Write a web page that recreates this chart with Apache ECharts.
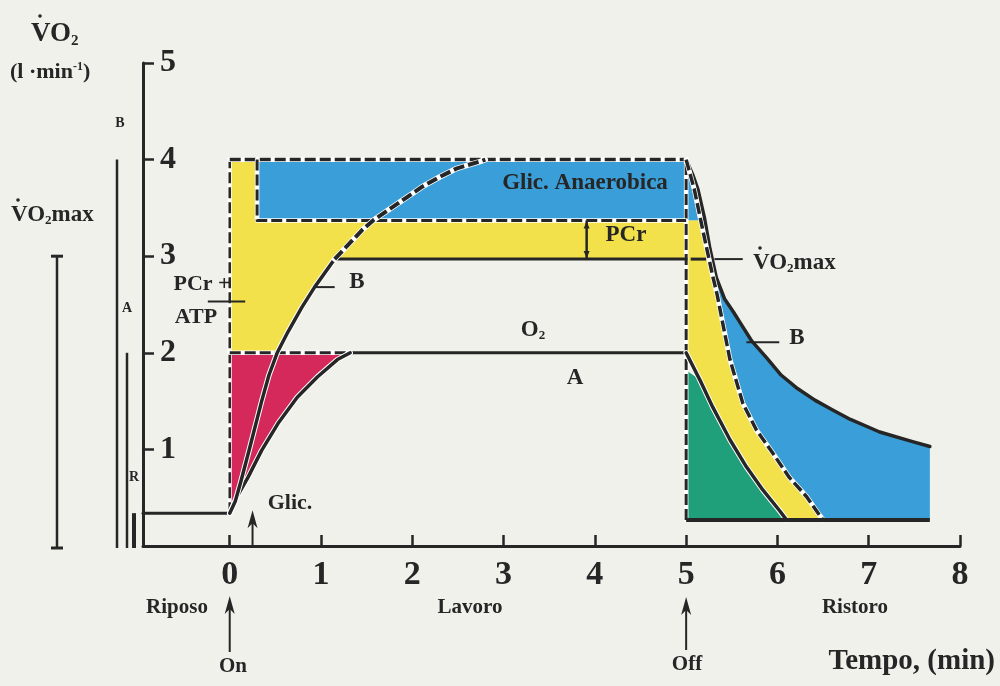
<!DOCTYPE html>
<html>
<head>
<meta charset="utf-8">
<script src="https://cdn.jsdelivr.net/npm/echarts@6/dist/echarts.min.js"></script>
<style>
  html, body { margin: 0; padding: 0; background: #f1f1ec; }
  #chart { width: 1000px; height: 686px; }
</style>
</head>
<body>
<div id="chart"></div>
<script>
// ---- values (minutes, l·min-1) ----
const xTicks = [0, 1, 2, 3, 4, 5, 6, 7, 8];
const yTicks = [1, 2, 3, 4, 5];
const xMin = -0.95, xMax = 8;

const restLevel = 0.34;        // resting VO2
const recoveryFloor = 0.27;    // baseline drawn under the recovery areas
const demandLevel = 4.0;       // total energy demand during work
const vo2maxLevel = 2.97;      // subject B ceiling
const levelA = 2.0;            // subject A steady state
const anaerobicFloor = 3.37;   // lower edge of the anaerobic glycolysis band
const anaerobicStart = 0.3;
const workEnd = 5;
const recoveryEnd = 7.67;
const greenTop = 1.82;
const pcrArrowAt = 3.91;
const glicArrowAt = 0.25;

// on-kinetics, subject B (solid up to VO2max, then projected)
const curveBRise = [[0, 0.34], [0.06, 0.46], [0.12, 0.66], [0.22, 1.02], [0.35, 1.5], [0.43, 1.77],
  [0.52, 2.0], [0.64, 2.22], [0.79, 2.47], [0.93, 2.68], [1.15, 2.97]];
const curveBProjected = [[1.15, 2.97], [1.45, 3.27], [1.57, 3.37], [1.94, 3.61], [2.11, 3.72],
  [2.3, 3.82], [2.49, 3.91], [2.74, 3.98], [2.8, 4.0]];
// on-kinetics, subject A
const curveA = [[0, 0.34], [0.08, 0.51], [0.2, 0.71], [0.35, 0.99], [0.53, 1.27], [0.74, 1.54],
  [0.96, 1.75], [1.18, 1.93], [1.32, 2.0]];
// recovery: total O2 debt (outer), glycolytic share boundary (dashed), subject A
const recoveryOuter = [[5, 4.0], [5.07, 3.85], [5.13, 3.69], [5.2, 3.4], [5.26, 3.08], [5.33, 2.78],
  [5.42, 2.56], [5.52, 2.42], [5.6, 2.3], [5.72, 2.12], [5.88, 1.95], [6.04, 1.77], [6.22, 1.63],
  [6.41, 1.51], [6.6, 1.41], [6.8, 1.31], [7.12, 1.18], [7.48, 1.08], [7.67, 1.03]];
const recoveryDashed = [[5, 4.0], [5.09, 3.69], [5.16, 3.37], [5.23, 3.06], [5.29, 2.8], [5.34, 2.6],
  [5.4, 2.31], [5.48, 1.93], [5.62, 1.48], [5.77, 1.2], [5.95, 0.96], [6.13, 0.71], [6.32, 0.51],
  [6.46, 0.32], [6.5, 0.27]];
const recoveryA = [[5, 2.0], [5.15, 1.72], [5.29, 1.44], [5.48, 1.1], [5.66, 0.82], [5.84, 0.58],
  [6.02, 0.37], [6.1, 0.27]];

// ---- styling ----
const FONT = '"Liberation Serif", "Times New Roman", serif';
const INK = '#262626';
const COL = { yellow: '#f2e14a', blue: '#3a9fd8', red: '#d5295c', green: '#1f9f7a', bg: '#f1f1ec' };

function renderItem(params, api) {
  const P = p => api.coord(p);
  const kids = [];
  const poly = (a, fill) => kids.push({ type: 'polygon', shape: { points: a.map(P) }, style: { fill: fill } });
  const line = (a, w, dash, color, cap) => kids.push({
    type: 'polyline', shape: { points: a.map(P) },
    style: { stroke: color || INK, lineWidth: w, lineDash: dash || null, fill: null, lineJoin: 'round', lineCap: cap || (dash ? 'butt' : 'round') }
  });
  const dashed = (a, w) => { line(a, w + 1.5, null, '#ffffff'); line(a, w, [11, 4]); };
  const haloed = (a, w) => { line(a, w + 2, null, '#ffffff'); line(a, w); };

  // ---- filled areas ----
  const riseAbove = curveBRise.filter(p => p[1] >= levelA).reverse();
  poly([[0, demandLevel], [anaerobicStart, demandLevel], [anaerobicStart, anaerobicFloor],
        [workEnd, anaerobicFloor], [workEnd, vo2maxLevel]].concat(riseAbove, [[0, levelA]]), COL.yellow);
  poly([[anaerobicStart, anaerobicFloor], [anaerobicStart, demandLevel], [workEnd, demandLevel],
        [workEnd, anaerobicFloor]], COL.blue);
  poly([[0, levelA]].concat(curveA.slice().reverse()), COL.red);

  const dashedLower = recoveryDashed.filter(p => p[1] <= anaerobicFloor);
  poly(recoveryOuter.concat([[recoveryEnd, recoveryFloor]], dashedLower.slice().reverse(),
        [[workEnd, anaerobicFloor]]), COL.blue);
  poly([[workEnd, anaerobicFloor]].concat(dashedLower, recoveryA.slice().reverse()), COL.yellow);
  poly([[workEnd, greenTop]].concat(recoveryA.slice(1), [[workEnd, recoveryFloor]]), COL.green);

  // ---- outlines ----
  line([[xMin, restLevel], [0, restLevel]], 3);
  dashed([[0, restLevel], [0, demandLevel]], 2.5);
  dashed([[0, demandLevel], [workEnd, demandLevel]], 3.5);
  dashed([[workEnd, recoveryFloor], [workEnd, demandLevel]], 3);
  dashed([[anaerobicStart, demandLevel], [anaerobicStart, anaerobicFloor], [workEnd, anaerobicFloor]], 3);
  dashed([[0, levelA], [curveA[curveA.length - 1][0], levelA]], 3);
  line([[curveA[curveA.length - 1][0], levelA], [workEnd, levelA]], 3);
  line([[curveBRise[curveBRise.length - 1][0], vo2maxLevel], [workEnd, vo2maxLevel]], 3);
  line([[workEnd + 0.05, vo2maxLevel], [workEnd + 0.22, vo2maxLevel]], 3, null, null, 'butt');

  haloed(curveA, 3.5);
  haloed(curveBRise, 3.5);
  dashed(curveBProjected, 4);

  haloed(recoveryA, 3.5);
  line(recoveryOuter, 3.5);
  dashed(recoveryDashed, 3.5);
  line([[workEnd, recoveryFloor], [recoveryEnd, recoveryFloor]], 4, null, null, 'butt');

  // PCr double arrow
  const a0 = P([pcrArrowAt, vo2maxLevel]), a1 = P([pcrArrowAt, anaerobicFloor]);
  kids.push({ type: 'line', shape: { x1: a0[0], y1: a0[1], x2: a1[0], y2: a1[1] }, style: { stroke: INK, lineWidth: 2.5 } });
  kids.push({ type: 'polygon', shape: { points: [[a1[0], a1[1] + 1], [a1[0] - 3, a1[1] + 8], [a1[0] + 3, a1[1] + 8]] }, style: { fill: INK } });
  kids.push({ type: 'polygon', shape: { points: [[a0[0], a0[1] - 1], [a0[0] - 3, a0[1] - 8], [a0[0] + 3, a0[1] - 8]] }, style: { fill: INK } });

  // level bars beside the axis
  const axisX = P([xMin, 0])[0];
  const y0 = P([xMin, 0])[1] + 2;
  const yAt = v => P([xMin, v])[1];
  const bar = (dx, v, w) => kids.push({ type: 'line', shape: { x1: axisX + dx, y1: y0, x2: axisX + dx, y2: yAt(v) }, style: { stroke: INK, lineWidth: w } });
  bar(-26, demandLevel, 2.5);
  bar(-16, levelA, 2.5);
  bar(-9, restLevel, 4);
  bar(-86, 3.0, 2.5);
  kids.push({ type: 'line', shape: { x1: axisX - 92, y1: yAt(3.0), x2: axisX - 80, y2: yAt(3.0) }, style: { stroke: INK, lineWidth: 3 } });
  kids.push({ type: 'line', shape: { x1: axisX - 92, y1: y0, x2: axisX - 80, y2: y0 }, style: { stroke: INK, lineWidth: 3 } });

  // label leaders
  const lead = (t0, t1, v) => { const p0 = P([t0, v]), p1 = P([t1, v]); kids.push({ type: 'line', shape: { x1: p0[0], y1: p0[1], x2: p1[0], y2: p1[1] }, style: { stroke: INK, lineWidth: 2 } }); };
  lead(-0.24, 0.17, 2.53);
  lead(0.93, 1.15, 2.68);
  lead(5.31, 5.62, vo2maxLevel);
  lead(5.66, 6.02, 2.11);

  // arrows
  const arrow = (x, yBase, yTip) => {
    kids.push({ type: 'line', shape: { x1: x, y1: yBase, x2: x, y2: yTip + 10 }, style: { stroke: INK, lineWidth: 2 } });
    kids.push({ type: 'polygon', shape: { points: [[x, yTip], [x - 5, yTip + 18], [x, yTip + 13], [x + 5, yTip + 18]] }, style: { fill: INK } });
  };
  const axisY = P([0, 0])[1];
  arrow(P([0, 0])[0], axisY + 106, axisY + 50);
  arrow(P([workEnd, 0])[0], axisY + 104, axisY + 51);
  arrow(P([glicArrowAt, 0])[0], axisY, P([glicArrowAt, 0.37])[1]);

  return { type: 'group', children: kids };
}

function txt(x, y, text, size, extra) {
  return {
    type: 'text', x: x, y: y, silent: true, z: 100,
    style: Object.assign({
      text: text, fill: INK, fontFamily: FONT, fontWeight: 'bold', fontSize: size,
      align: 'center', verticalAlign: 'middle'
    }, extra || {})
  };
}
const subRich = (size) => ({
  m: { fontFamily: FONT, fontWeight: 'bold', fontSize: size, fill: INK },
  s: { fontFamily: FONT, fontWeight: 'bold', fontSize: Math.round(size * 0.55), fill: INK, padding: [Math.round(size * 0.5), 0, 0, 0] },
  u: { fontFamily: FONT, fontWeight: 'bold', fontSize: Math.round(size * 0.55), fill: INK, padding: [0, 0, Math.round(size * 0.5), 0] }
});
const dot = (x, y) => ({ type: 'circle', silent: true, z: 100, shape: { cx: x, cy: y, r: 1.8 }, style: { fill: INK } });

const graphics = [
  txt(31, 34, '{m|VO}{s|2}', 27, { align: 'left', rich: subRich(27) }), dot(40, 16),
  txt(10, 72, '{m|(l ·min}{u|-1}{m|)}', 22, { align: 'left', rich: subRich(22) }),
  txt(120, 123, 'B', 14),
  txt(11, 215, '{m|VO}{s|2}{m|max}', 23, { align: 'left', rich: subRich(23) }), dot(18, 200),
  txt(127, 308, 'A', 14),
  txt(134, 477, 'R', 14),
  txt(202, 284, 'PCr +', 22),
  txt(196, 317, 'ATP', 22),
  txt(357, 282, 'B', 23),
  txt(585, 183, 'Glic. Anaerobica', 23),
  txt(626, 235, 'PCr', 23),
  txt(753, 263, '{m|VO}{s|2}{m|max}', 23, { align: 'left', rich: subRich(23) }), dot(760, 248),
  txt(797, 338, 'B', 23),
  txt(533, 330, '{m|O}{s|2}', 23, { rich: subRich(23) }),
  txt(575, 378, 'A', 23),
  txt(290, 503, 'Glic.', 22),
  txt(177, 608, 'Riposo', 21),
  txt(470, 608, 'Lavoro', 21),
  txt(855, 608, 'Ristoro', 21),
  txt(233, 667, 'On', 21),
  txt(687, 665, 'Off', 21),
  txt(995, 662, 'Tempo, (min)', 29, { align: 'right' })
];

const chart = echarts.init(document.getElementById('chart'));
chart.setOption({
  backgroundColor: COL.bg,
  animation: false,
  grid: { left: 143, right: 40, top: 63, bottom: 140 },
  xAxis: {
    type: 'value', min: xMin, max: xMax,
    axisLine: { show: true, onZero: false, lineStyle: { color: INK, width: 3 } },
    axisTick: { show: true, inside: true, length: 11, customValues: xTicks, lineStyle: { color: INK, width: 2.5 } },
    axisLabel: { customValues: xTicks, margin: 12, fontFamily: FONT, fontWeight: 'bold', fontSize: 34, color: INK },
    splitLine: { show: false }
  },
  yAxis: {
    type: 'value', min: 0, max: 5, interval: 1,
    axisLine: { show: true, onZero: false, lineStyle: { color: INK, width: 3 } },
    axisTick: { show: true, inside: true, length: 11, lineStyle: { color: INK, width: 2.5 } },
    axisLabel: { inside: true, customValues: yTicks, margin: 17, padding: [0, 0, 8, 0], fontFamily: FONT, fontWeight: 'bold', fontSize: 32, color: INK },
    splitLine: { show: false }
  },
  series: [{ type: 'custom', renderItem: renderItem, data: [[0, 0]], clip: false, silent: true }],
  graphic: graphics
});
</script>
</body>
</html>
